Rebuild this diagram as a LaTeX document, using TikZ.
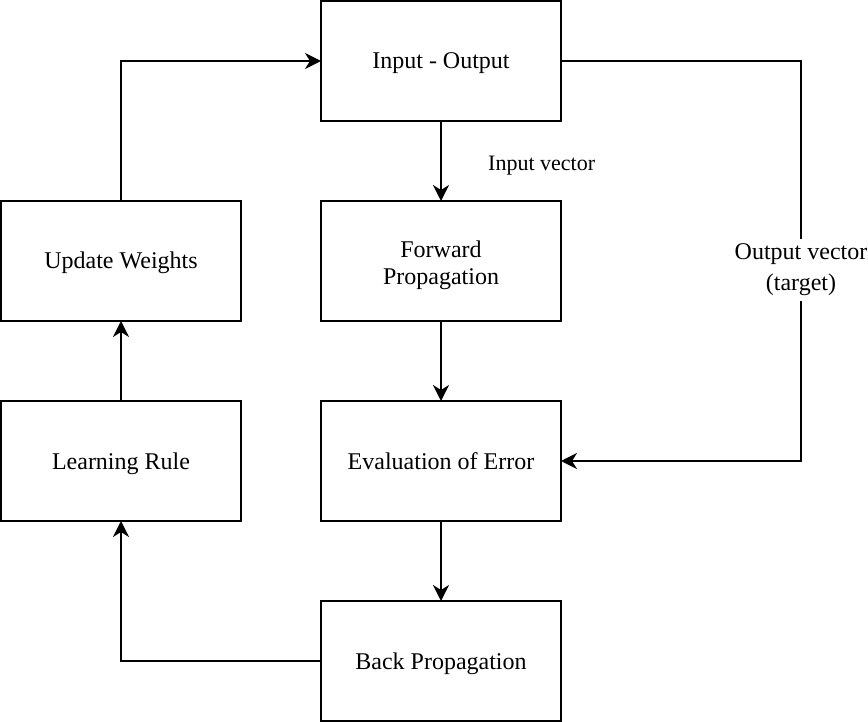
\documentclass[tikz,border=0pt]{standalone}
\usepackage{fontspec}
\setmainfont{Liberation Serif}
\usetikzlibrary{arrows.meta, positioning, calc}

\begin{document}
\begin{tikzpicture}[
        node distance=80pt and 80pt,
        box/.style={
            draw,
            line width=2pt,
            outer sep=0pt,
            align=center,
            minimum width=240pt,
            minimum height=120pt,
            text height=18pt,
            text depth=2pt,
            font=\fontsize{24}{28}\selectfont
        },
        lbl/.style={
            inner sep=2pt,
            align=center,
            font=\fontsize{22}{27}\selectfont
        },
        arrow/.style={
            -{Stealth[length=16pt, width=16pt, inset=5pt]},
            line width=2pt
        }
    ]

    \useasboundingbox (0pt,0pt) rectangle (868pt,-722pt);

    % Main column
    \node[box] (io) at (441pt,-61pt) {Input - Output};

    \node[box, below=of io, text height=50pt] (fwd) {
        Forward\\
        Propagation
    };

    \node[box, below=of fwd] (eval) {Evaluation of Error};

    \node[box, below=of eval] (back) {Back Propagation};

    % Left column
    \node[box, left=of fwd] (update) {Update Weights};

    \node[box, left=of eval] (learn) {Learning Rule};

    % Main arrows
    \draw[arrow] (io) -- (fwd);
    \draw[arrow] (fwd) -- (eval);
    \draw[arrow] (eval) -- (back);

    % Input vector label placed separately
    \node[lbl, right=45pt, yshift=-5pt] at ($(io.south)!0.5!(fwd.north)$) {Input vector};

    % Target path on the right
    \draw[arrow]
        (io.east)
        -- ++(240pt,0)
        |- node[
            lbl,
            pos=0.25,
            yshift=-9pt,
            inner ysep=5pt,
            fill=white,
            font=\fontsize{24}{31}\selectfont
        ] {Output vector\\(target)}
        (eval.east);

    % Weight update loop
    \draw[arrow] (back.west) -| (learn.south);
    \draw[arrow] (learn) -- (update);
    \draw[arrow] (update.north) |- (io.west);

    \end{tikzpicture}
\end{document}
